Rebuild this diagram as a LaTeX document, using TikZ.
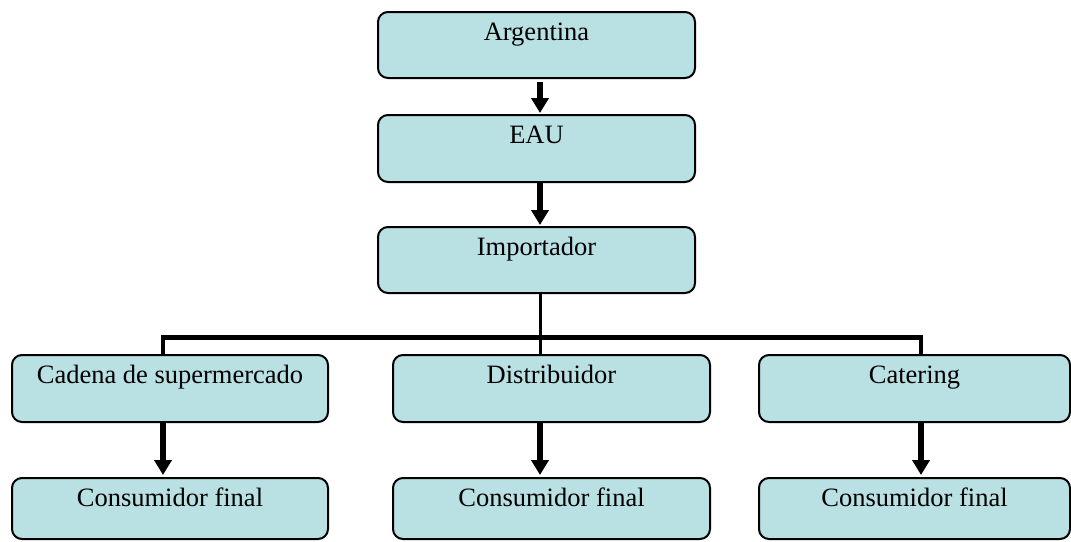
\documentclass[tikz,border=0pt]{standalone}
\usepackage{fontspec}
\setmainfont{Liberation Serif}
\usetikzlibrary{arrows.meta}
\definecolor{boxfill}{RGB}{185,224,227}
\tikzset{
  box/.style={draw=black, line width=2pt, fill=boxfill, rounded corners=10pt, inner sep=0pt},
  slot/.style={inner sep=0pt, outer sep=0pt},
  lbl/.style={anchor=base, inner sep=0pt, font=\fontsize{26.5}{30}\selectfont},
  arr/.style={line width=5.5pt, -{Triangle[width=17pt,length=15pt]}},
  thin/.style={line width=3pt},
  bar/.style={line width=5pt},
  drop/.style={line width=4pt}
}
\begin{document}
\begin{tikzpicture}[x=1pt,y=-1pt]
\useasboundingbox (0,0) rectangle (1071,541);
% box slots (positions in pixels)
\node[slot, minimum width=317pt, minimum height=66pt] (arg) at (536.5,45) {};
\node[slot, minimum width=317pt, minimum height=67pt] (eau) at (536.5,148.5) {};
\node[slot, minimum width=317pt, minimum height=66pt] (imp) at (536.5,260) {};
\node[slot, minimum width=316pt, minimum height=67pt] (cad) at (170,388.5) {};
\node[slot, minimum width=317pt, minimum height=67pt] (dis) at (551.5,388.5) {};
\node[slot, minimum width=311pt, minimum height=67pt] (cat) at (914.5,388.5) {};
\node[slot, minimum width=316pt, minimum height=61pt] (c1) at (170,508.5) {};
\node[slot, minimum width=317pt, minimum height=61pt] (c2) at (551.5,508.5) {};
\node[slot, minimum width=311pt, minimum height=61pt] (c3) at (914.5,508.5) {};
\foreach \n in {arg,eau,imp,cad,dis,cat,c1,c2,c3}{
  \draw[box] (\n.north west) rectangle (\n.south east);
}
% texts
\node[lbl] (targ) at ([yshift=-28pt]arg.north) {Argentina};
\node[lbl] (teau) at ([yshift=-28pt]eau.north) {EAU};
\node[lbl] (timp) at ([yshift=-28pt]imp.north) {Importador};
\node[lbl] (tcad) at ([yshift=-28pt]cad.north) {Cadena de supermercado};
\node[lbl] (tdis) at ([yshift=-28pt]dis.north) {Distribuidor};
\node[lbl] (tcat) at ([yshift=-28pt]cat.north) {Catering};
\node[lbl] (tc1) at ([yshift=-28pt]c1.north) {Consumidor final};
\node[lbl] (tc2) at ([yshift=-28pt]c2.north) {Consumidor final};
\node[lbl] (tc3) at ([yshift=-28pt]c3.north) {Consumidor final};
% connectors
\coordinate (bl) at (163,337);
\coordinate (bm) at (540,337);
\coordinate (br) at (921,337);
\draw[arr] ([yshift=-4pt]arg.south -| bm) -- ([yshift=2pt]eau.north -| bm);
\draw[arr] (eau.south -| bm) -- ([yshift=2pt]imp.north -| bm);
\draw[thin] (imp.south -| bm) -- (dis.north -| bm);
\draw[bar] ([xshift=-2pt]bl) -- ([xshift=2pt]br);
\draw[drop] (bl) -- (cad.north -| bl);
\draw[drop] (br) -- (cat.north -| br);
\draw[arr] (cad.south -| bl) -- ([yshift=3pt]c1.north -| bl);
\draw[arr] (dis.south -| bm) -- ([yshift=3pt]c2.north -| bm);
\draw[arr] (cat.south -| br) -- ([yshift=3pt]c3.north -| br);
\end{tikzpicture}
\end{document}
